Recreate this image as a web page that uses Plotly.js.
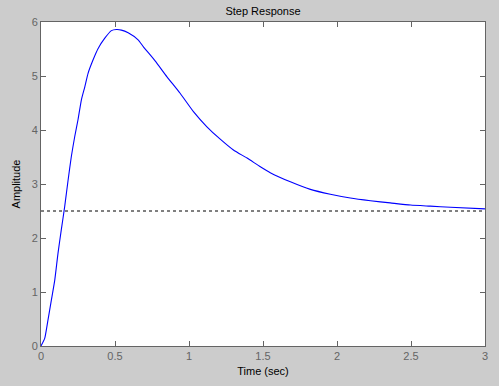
<!DOCTYPE html>
<html>
<head>
<meta charset="utf-8">
<script src="https://cdn.plot.ly/plotly-3.0.1.min.js"></script>
<style>html,body{margin:0;padding:0;background:#cccccc;}#chart{width:499px;height:386px;}</style>
</head>
<body>
<div id="chart"></div>
<script>
// Step response samples
var time = [0, 0.025, 0.047, 0.07, 0.093, 0.115, 0.137, 0.16, 0.183, 0.205, 0.228, 0.25, 0.273, 0.296, 0.318, 0.352, 0.386, 0.431, 0.476, 0.51, 0.543, 0.589, 0.656, 0.692, 0.771, 0.85, 0.94, 1.03, 1.121, 1.211, 1.30, 1.392, 1.482, 1.549, 1.685, 1.82, 1.955, 2.09, 2.226, 2.36, 2.497, 2.63, 2.767, 3.0];
var amplitude = [0, 0.14, 0.48, 0.85, 1.22, 1.72, 2.15, 2.58, 3.07, 3.51, 3.88, 4.19, 4.56, 4.80, 5.05, 5.30, 5.51, 5.70, 5.84, 5.86, 5.85, 5.80, 5.67, 5.54, 5.28, 4.99, 4.68, 4.34, 4.06, 3.83, 3.63, 3.48, 3.32, 3.21, 3.04, 2.90, 2.81, 2.74, 2.69, 2.65, 2.61, 2.59, 2.57, 2.54];
var finalTime = [0, 3];
var finalValue = [2.5, 2.5];
var xTicks = [0, 0.5, 1, 1.5, 2, 2.5, 3];
var yTicks = [0, 1, 2, 3, 4, 5, 6];

var axisGray = '#646464';
var fontFam = 'Liberation Sans, Arial, sans-serif';

var traces = [
  {x: finalTime, y: finalValue, type: 'scatter', mode: 'lines', line: {color: '#000000', width: 1, dash: '3px,3px'}, hoverinfo: 'skip'},
  {x: time, y: amplitude, type: 'scatter', mode: 'lines', line: {color: '#0000ff', width: 1.1, shape: 'spline', smoothing: 0.5}, hoverinfo: 'skip'}
];

var layout = {
  width: 499, height: 386,
  paper_bgcolor: '#cccccc', plot_bgcolor: '#ffffff',
  margin: {l: 41, r: 14, t: 22, b: 40},
  showlegend: false,
  font: {family: fontFam, size: 11, color: '#000000'},
  title: {text: 'Step Response', x: 0.5, xref: 'paper', y: 1, yref: 'paper', yanchor: 'bottom', pad: {b: 7}, font: {family: fontFam, size: 11, color: '#000000'}},
  xaxis: {
    range: [0, 3], tickvals: xTicks, ticktext: xTicks.map(String),
    showgrid: false, zeroline: false,
    showline: true, linecolor: axisGray, linewidth: 1, mirror: 'ticks',
    ticks: 'inside', ticklen: 5, tickcolor: axisGray, tickwidth: 1,
    tickfont: {family: fontFam, size: 11, color: axisGray},
    title: {text: 'Time (sec)', standoff: 6, font: {family: fontFam, size: 11, color: '#000000'}}
  },
  yaxis: {
    range: [0, 6], tickvals: yTicks, ticktext: yTicks.map(String),
    showgrid: false, zeroline: false,
    showline: true, linecolor: axisGray, linewidth: 1, mirror: 'ticks',
    ticks: 'inside', ticklen: 5, tickcolor: axisGray, tickwidth: 1,
    tickfont: {family: fontFam, size: 11, color: axisGray},
    title: {text: 'Amplitude', standoff: 8, font: {family: fontFam, size: 11, color: '#000000'}}
  }
};

Plotly.newPlot('chart', traces, layout, {staticPlot: true, displayModeBar: false});
</script>
</body>
</html>
